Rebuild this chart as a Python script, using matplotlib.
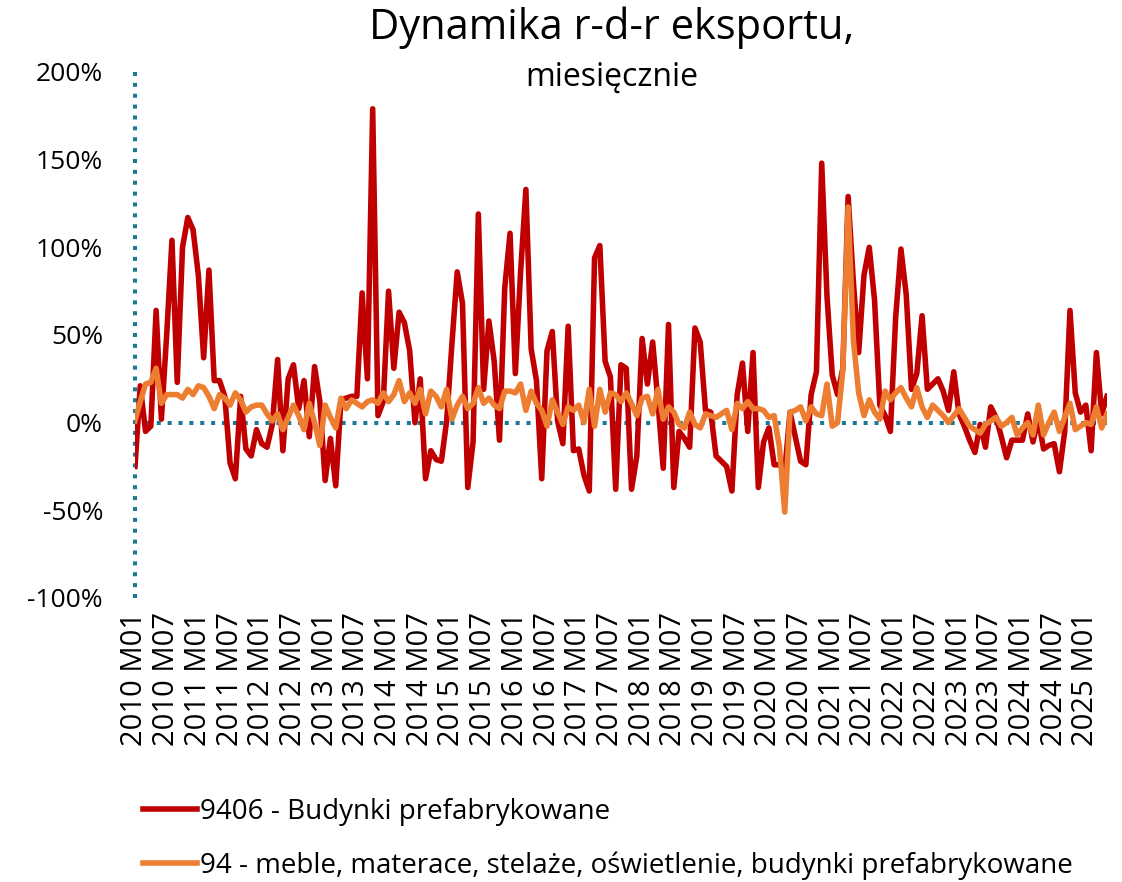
import numpy as np
import matplotlib
matplotlib.use("Agg")
import matplotlib.pyplot as plt
from matplotlib.lines import Line2D

plt.rcParams['font.family'] = ['Open Sans', 'DejaVu Sans']

# m/m dynamics in %, monthly from 2010 M01
budynki = [
    -25, 21, -5, -2, 64, 2, 50, 104, 23, 100, 117, 110, 84, 37, 87, 24, 24, 15, -23, -32,
    15, -15, -19, -4, -12, -14, -1, 36, -16, 25, 33, 8, 24, -8, 32, 12, -33, -9, -36, 13,
    14, 15, 15, 74, 25, 179, 4, 12, 75, 31, 63, 57, 41, 0, 25, -32, -16, -21, -22, 1,
    45, 86, 68, -37, -11, 119, 19, 58, 35, -10, 77, 108, 28, 86, 133, 42, 24, -32, 41, 52,
    1, -12, 55, -16, -15, -30, -39, 94, 101, 35, 26, -38, 33, 31, -38, -19, 48, 22, 46, 12,
    -26, 56, -37, -5, -9, -14, 54, 46, 7, 6, -19, -22, -25, -39, 16, 34, -5, 40, -37, -11,
    -3, -24, -24, -28, 6, -8, -22, -24, 16, 29, 148, 72, 27, 16, 31, 129, 80, 40, 84, 100,
    70, 10, 4, -5, 60, 99, 73, 19, 28, 61, 19, 22, 25, 18, 7, 29, 5, -2, -10, -17,
    -1, -14, 9, 3, -8, -20, -10, -10, -10, 5, -11, 2, -15, -13, -12, -28, -5, 64, 17, 6,
    10, -16, 40, 5, 15,
]
meble = [
    1, 12, 22, 23, 31, 11, 16, 16, 16, 14, 19, 16, 21, 20, 15, 8, 16, 14, 10, 17,
    13, 6, 9, 10, 10, 5, 1, 5, -4, 3, 10, 4, -4, 11, 0, -13, 10, 3, -3, 14,
    8, 13, 11, 9, 12, 13, 11, 17, 12, 16, 24, 12, 17, 11, 19, 5, 18, 15, 9, 19,
    2, 10, 15, 8, 11, 20, 11, 14, 10, 8, 18, 18, 17, 22, 7, 18, 11, 7, -2, 13,
    6, -1, 9, 7, 10, 0, 19, -2, 19, 6, 17, 16, 12, 17, 11, 4, 14, 15, 5, 19,
    2, 9, 6, -1, -3, 6, -1, -3, 5, 4, 3, 5, 7, -4, 11, 8, 12, 8, 8, 7,
    3, 4, -14, -51, 6, 7, 9, 1, 9, 5, 4, 22, -2, 0, 30, 123, 47, 17, 4, 13,
    6, 2, 18, 13, 17, 20, 14, 9, 20, 9, 3, 10, 7, 4, 0, 4, 8, 3, -2, -4,
    -6, -1, 1, 3, -2, 0, 3, -7, -3, 0, -7, 10, -7, 0, 6, -5, 3, 11, -4, -2,
    0, -1, 9, -3, 5,
]
months = [f"{2010 + k // 12} M{k % 12 + 1:02d}" for k in range(len(budynki))]
label_red = "9406 - Budynki prefabrykowane"
label_orange = "94 - meble, materace, stelaże, oświetlenie, budynki prefabrykowane"

RED = "#C00000"
ORANGE = "#ED7D31"
TEAL = "#1A7A95"

fig = plt.figure(figsize=(11.22, 8.82), dpi=100)
ax = fig.add_axes([0.1203, 0.322, 0.8663, 0.5964])

x = np.arange(len(budynki))
dots = (0, (1, 1.7))
ax.axhline(0, color=TEAL, lw=2.9, linestyle=dots, dash_capstyle="butt", zorder=1, clip_on=False)
ax.axvline(0, color=TEAL, lw=2.9, linestyle=dots, dash_capstyle="butt", zorder=1, clip_on=False)
ax.plot(x, budynki, color=RED, lw=4.0, solid_joinstyle="round", zorder=3)
ax.plot(x, meble, color=ORANGE, lw=4.0, solid_joinstyle="round", zorder=4)

ax.set_xlim(0, len(budynki) - 1)
ax.set_ylim(-100, 200)
yt = np.arange(-100, 201, 50)
ax.set_yticks(yt)
ax.set_yticklabels([f"{v}%" for v in yt], fontsize=19)
xt = x[::6]
ax.set_xticks(xt)
ax.set_xticklabels([months[k] for k in xt], rotation=90, fontsize=21)
ax.tick_params(axis="both", length=0, colors="#000000")
ax.tick_params(axis="y", pad=23)
ax.tick_params(axis="x", pad=10)
for s in ax.spines.values():
    s.set_visible(False)

fig.text(0.545, 0.968, "Dynamika r-d-r eksportu,", ha="center", va="center", fontsize=30)
fig.text(0.545, 0.912, "miesięcznie", ha="center", va="center", fontsize=23)

handles = [Line2D([], [], color=RED, lw=4.0), Line2D([], [], color=ORANGE, lw=4.0)]
fig.legend(handles, [label_red, label_orange], loc="upper left",
           bbox_to_anchor=(0.1275, 0.0952), frameon=False, fontsize=20,
           handlelength=1.95, handletextpad=0.1, labelspacing=0.9,
           borderaxespad=0, borderpad=0)

fig.savefig("out.png", dpi=100)
